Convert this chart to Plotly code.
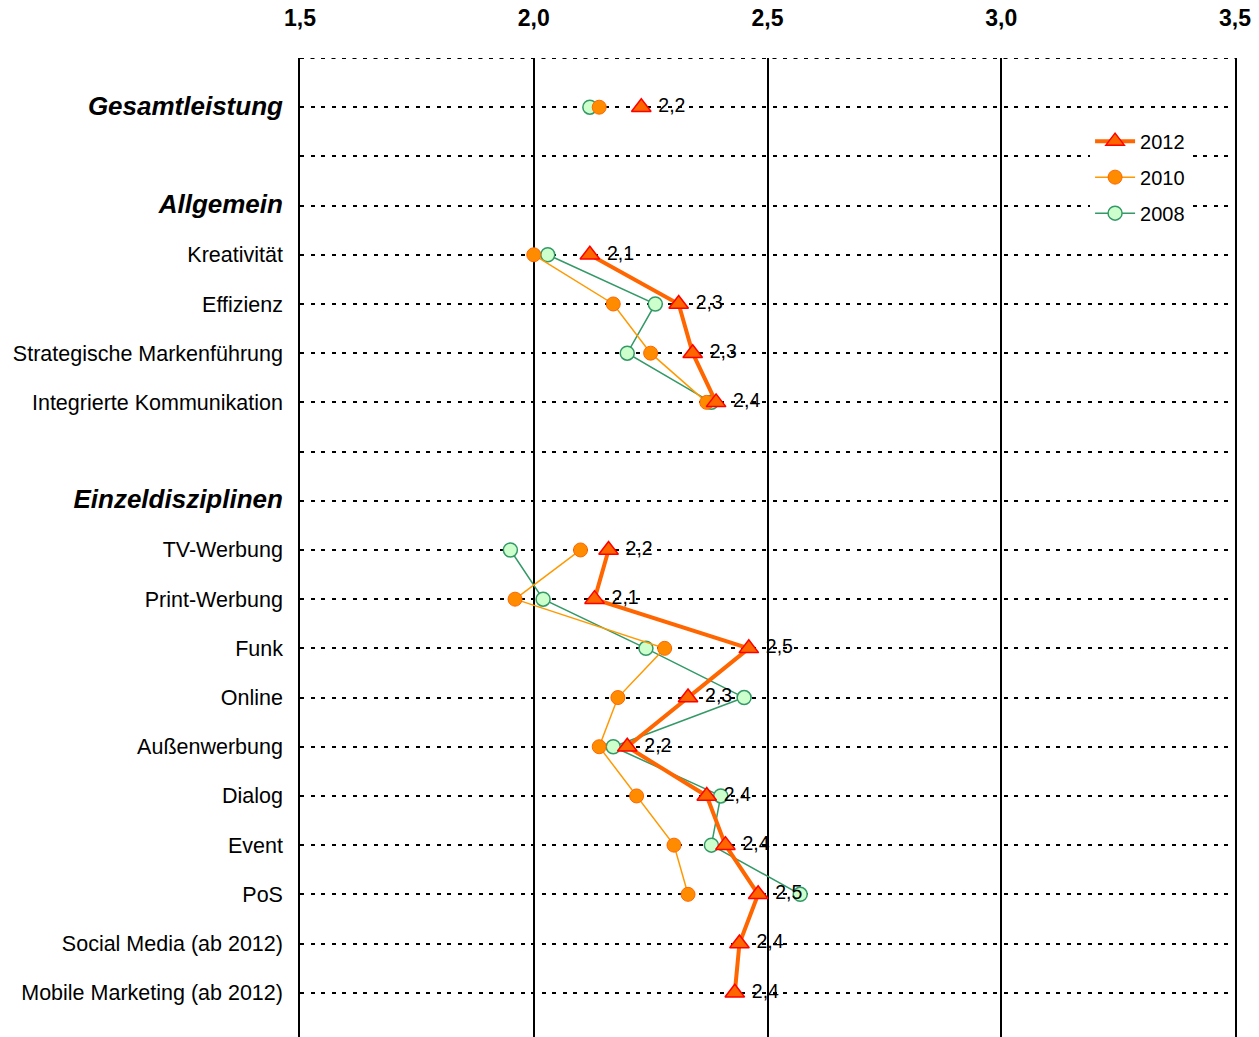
import plotly.graph_objects as go

# Row labels (top to bottom); empty strings are spacer rows
categories = [
    "Gesamtleistung", "", "Allgemein", "Kreativität", "Effizienz",
    "Strategische Markenführung", "Integrierte Kommunikation", "",
    "Einzeldisziplinen", "TV-Werbung", "Print-Werbung", "Funk", "Online",
    "Außenwerbung", "Dialog", "Event", "PoS", "Social Media (ab 2012)",
    "Mobile Marketing (ab 2012)",
]
headers = {"Gesamtleistung", "Allgemein", "Einzeldisziplinen"}

# Average ratings per year (None = no value for that row)
values_2012 = [2.23, None, None, 2.12, 2.31, 2.34, 2.39, None, None,
               2.16, 2.13, 2.46, 2.33, 2.20, 2.37, 2.41, 2.48, 2.44, 2.43]
values_2010 = [2.14, None, None, 2.00, 2.17, 2.25, 2.37, None, None,
               2.10, 1.96, 2.28, 2.18, 2.14, 2.22, 2.30, 2.33, None, None]
values_2008 = [2.12, None, None, 2.03, 2.26, 2.20, 2.38, None, None,
               1.95, 2.02, 2.24, 2.45, 2.17, 2.40, 2.38, 2.57, None, None]

x_ticks = [1.5, 2.0, 2.5, 3.0, 3.5]
x_ticktext = ["1,5", "2,0", "2,5", "3,0", "3,5"]

rows = list(range(len(categories)))
font = "Liberation Sans, Arial, sans-serif"
dotted = "4px,6.5px"


def fmt(v):
    return "" if v is None else f"{v:.1f}".replace(".", ",")


fig = go.Figure()

fig.add_trace(go.Scatter(
    x=values_2008, y=rows, name="2008", mode="lines+markers",
    line=dict(color="#339966", width=1.5),
    marker=dict(symbol="circle", size=14, color="#CCFFCC",
                line=dict(color="#339966", width=1.5)),
    connectgaps=False, legendrank=3, legendgroup="g2008",
))
fig.add_trace(go.Scatter(
    x=values_2010, y=rows, name="2010", mode="lines+markers",
    line=dict(color="#FF9900", width=1.5),
    marker=dict(symbol="circle", size=14, color="#FF8C00",
                line=dict(color="#FF6600", width=1)),
    connectgaps=False, legendrank=2, legendgroup="g2010",
))
fig.add_trace(go.Scatter(
    x=values_2012, y=rows, name="2012", mode="lines+markers+text",
    line=dict(color="#FF6600", width=4),
    marker=dict(symbol="triangle-up", size=17, color="#FF6600",
                line=dict(color="#FF0000", width=1.5)),
    text=[" " + fmt(v) for v in values_2012],
    textposition="middle right",
    textfont=dict(family=font, size=19.5, color="#000000"),
    connectgaps=False, legendrank=1, legendgroup="g2012",
))

ticktext = []
for c in categories:
    if c in headers:
        ticktext.append(f"<b><i><span style='font-size:26px'>{c}</span></i></b>")
    else:
        ticktext.append(c)

fig.update_layout(
    width=1259, height=1037,
    margin=dict(l=300, r=24, t=58, b=0),
    paper_bgcolor="white", plot_bgcolor="white",
    font=dict(family=font, size=20, color="#000000"),
    showlegend=True,
    legend=dict(
        x=0.845, y=0.935, xanchor="left", yanchor="top",
        bgcolor="white", borderwidth=0,
        font=dict(family=font, size=20, color="#000000"),
        traceorder="grouped", itemwidth=40, tracegroupgap=7,
    ),
    xaxis=dict(
        range=[1.5, 3.5], side="top",
        tickvals=x_ticks, ticktext=x_ticktext,
        tickfont=dict(family=font, size=23, color="#000000", weight="bold"),
        ticks="outside", ticklen=22, tickcolor="rgba(0,0,0,0)",
        showgrid=True, gridcolor="#000000", gridwidth=1.5,
        zeroline=False, showline=False, fixedrange=True,
    ),
    yaxis=dict(
        range=[18.9, -1], tickvals=rows, ticktext=ticktext,
        tickfont=dict(family=font, size=21.5, color="#000000"),
        ticks="outside", ticklen=11, tickcolor="rgba(0,0,0,0)",
        showgrid=True, gridcolor="#000000", gridwidth=2, griddash=dotted,
        zeroline=False, showline=True, mirror=True,
        linecolor="#000000", linewidth=1.5, fixedrange=True,
    ),
)

# dotted top edge of the plot area
fig.add_shape(type="line", xref="paper", yref="y", x0=0, x1=1, y0=-1, y1=-1,
              line=dict(color="#000000", width=2, dash=dotted), layer="below")

fig.write_html("out.html")
